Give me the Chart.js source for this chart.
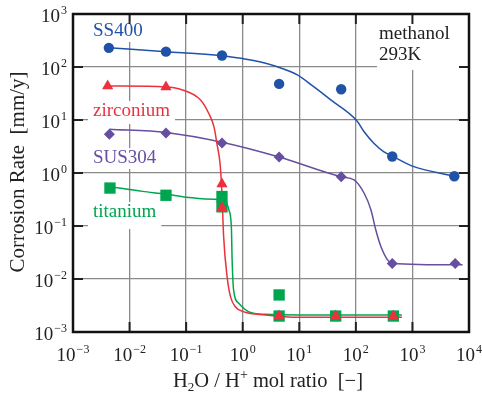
<!DOCTYPE html>
<html>
<head>
<meta charset="utf-8">
<script src="https://cdn.jsdelivr.net/npm/chart.js@4.4.0/dist/chart.umd.min.js"></script>
<style>
  html, body { margin: 0; background: #fff; }
  canvas { display: block; }
</style>
</head>
<body>
<canvas id="myChart" width="482" height="394"></canvas>
<script>
const canvas = document.getElementById('myChart')

// axis decades
const xTicks = [1e-3, 1e-2, 1e-1, 1e0, 1e1, 1e2, 1e3, 1e4]
const yTicks = [1e-3, 1e-2, 1e-1, 1e0, 1e1, 1e2, 1e3]

const ss400X = [0.0043, 0.044, 0.43, 4.4, 55, 440, 5500]
const ss400Y = [230, 195, 165, 48, 38, 2.05, 0.87]
const zrX = [0.0041, 0.044, 0.43, 0.43, 4.4, 44, 460]
const zrY = [44, 42, 0.62, 0.22, 0.002, 0.002, 0.002]
const sus304X = [0.0044, 0.044, 0.43, 4.4, 55, 440, 5700]
const sus304Y = [5.4, 5.7, 3.7, 2.0, 0.85, 0.0197, 0.0197]
const tiX = [0.0045, 0.044, 0.43, 0.43, 4.4, 4.4, 44, 460]
const tiY = [0.52, 0.38, 0.36, 0.23, 0.005, 0.002, 0.002, 0.002]

// fitted curves
const ss400CurveX = [0.0043, 0.044, 0.43, 1, 2, 4.1, 9.25, 18.2, 36, 104, 140, 210, 314, 437, 1000, 5500]
const ss400CurveY = [230, 195, 163, 144, 126, 101, 71, 42, 24, 9.7, 6.0, 3.6, 2.5, 2.1, 1.35, 0.87]
const zrCurveX = [0.0041, 0.044, 0.079, 0.178, 0.25, 0.31, 0.35, 0.40, 0.43, 0.46, 0.53, 0.61, 0.74, 1.05, 2.5, 10, 100, 650]
const zrCurveY = [44, 42, 38, 24, 13.4, 7.5, 3.6, 1.4, 0.4, 0.063, 0.011, 0.0046, 0.003, 0.0024, 0.0021, 0.0019, 0.0019, 0.0019]
const sus304CurveX = [0.0044, 0.044, 0.43, 4.4, 55, 93, 141, 185, 226, 277, 363, 440, 7700]
const sus304CurveY = [6.7, 5.8, 3.8, 2.0, 0.85, 0.74, 0.41, 0.2, 0.083, 0.041, 0.023, 0.0197, 0.0185]
const tiCurveX = [0.0045, 0.017, 0.044, 0.1, 0.3, 0.5, 0.57, 0.63, 0.65, 0.69, 0.85, 1.29, 2.5, 10, 100, 650]
const tiCurveY = [0.55, 0.45, 0.40, 0.35, 0.32, 0.29, 0.2, 0.097, 0.023, 0.0062, 0.0035, 0.0024, 0.00216, 0.0021, 0.0021, 0.0021]

const blue = 'rgb(32, 82, 168)'
const red = 'rgb(235, 50, 60)'
const purple = 'rgb(102, 78, 160)'
const green = 'rgb(0, 165, 80)'
const serif = '"Liberation Serif", "DejaVu Serif", serif'

const pts = (xs, ys) => xs.map((x, i) => ({ x, y: ys[i] }))

function curve(xs, ys, color) {
    return {
        data: pts(xs, ys),
        showLine: true,
        borderColor: color,
        borderWidth: 1.5,
        pointRadius: 0,
        cubicInterpolationMode: 'monotone',
        order: 10
    }
}

function marks(xs, ys, color, style, radius, order) {
    return {
        data: pts(xs, ys),
        showLine: false,
        pointStyle: style,
        pointRadius: radius,
        backgroundColor: color,
        borderWidth: 0,
        order
    }
}

// 10 with a raised exponent
function power(ctx, exp, x, y, align) {
    const sup = exp < 0 ? '\u2212' + (-exp) : String(exp)
    ctx.font = '19px ' + serif
    const wb = ctx.measureText('10').width
    ctx.font = '12px ' + serif
    const ws = ctx.measureText(sup).width
    const left = align === 'center' ? x - (wb + ws + 1) / 2 : x - wb - ws - 1
    ctx.textAlign = 'left'
    ctx.font = '19px ' + serif
    ctx.fillText('10', left, y)
    ctx.font = '12px ' + serif
    ctx.fillText(sup, left + wb + 1, y - 8)
}

// pieces of a title: [text, size, shift]
function pieces(ctx, parts, x, y) {
    let total = 0
    for (const [t, s] of parts) { ctx.font = s + 'px ' + serif; total += ctx.measureText(t).width }
    let cx = x - total / 2
    ctx.textAlign = 'left'
    for (const [t, s, dy] of parts) {
        ctx.font = s + 'px ' + serif
        ctx.fillText(t, cx, y + dy)
        cx += ctx.measureText(t).width
    }
}

function label(ctx, text, x, y, color, below) {
    ctx.font = '19px ' + serif
    const w = ctx.measureText(text).width
    ctx.fillStyle = '#fff'
    ctx.fillRect(x - 5, y - 15, w + 10, 15 + below)
    ctx.fillStyle = color
    ctx.textAlign = 'left'
    ctx.fillText(text, x, y)
}

const decor = {
    id: 'decor',
    beforeDatasetsDraw(chart) {
        const { ctx, chartArea: a, scales: { x, y } } = chart
        ctx.save()

        // label boxes
        ctx.fillStyle = '#fff'
        ctx.fillRect(377, a.top, a.right - 377, 70 - a.top)
        ctx.fillStyle = '#222'
        ctx.font = '19px ' + serif
        ctx.textAlign = 'left'
        ctx.fillText('methanol', 379, 39)
        ctx.fillText('293K', 379, 60)

        label(ctx, 'SS400', 93, 36, blue, 6)
        label(ctx, 'zirconium', 93, 116, red, 8)
        label(ctx, 'SUS304', 93, 163, purple, 6)
        label(ctx, 'titanium', 93, 217, green, 12)

        // inward ticks
        ctx.strokeStyle = '#222'
        ctx.lineWidth = 2
        ctx.beginPath()
        for (const v of xTicks) {
            const px = x.getPixelForValue(v)
            ctx.moveTo(px, a.top); ctx.lineTo(px, a.top + 10)
            ctx.moveTo(px, a.bottom); ctx.lineTo(px, a.bottom - 10)
        }
        for (const v of yTicks) {
            const py = y.getPixelForValue(v)
            ctx.moveTo(a.left, py); ctx.lineTo(a.left + 10, py)
            ctx.moveTo(a.right, py); ctx.lineTo(a.right - 10, py)
        }
        ctx.stroke()

        // frame
        ctx.strokeStyle = '#111'
        ctx.lineWidth = 2.5
        ctx.strokeRect(a.left, a.top, a.right - a.left, a.bottom - a.top)

        // tick labels
        ctx.fillStyle = '#222'
        ctx.textBaseline = 'alphabetic'
        for (const v of xTicks) power(ctx, Math.round(Math.log10(v)), x.getPixelForValue(v), 361, 'center')
        for (const v of yTicks) power(ctx, Math.round(Math.log10(v)), 67, y.getPixelForValue(v) + 8, 'right')

        // axis titles
        pieces(ctx, [['H', 20.5, 0], ['2', 13, 4], ['O', 20.5, 0], [' / ', 20.5, 0], ['H', 20.5, 0], ['+', 14, -8], [' mol ratio  [\u2212]', 20.5, 0]], 268, 387)

        ctx.translate(24, 172)
        ctx.rotate(-Math.PI / 2)
        ctx.font = '21px ' + serif
        ctx.textAlign = 'center'
        ctx.fillText('Corrosion Rate  [mm/y]', 0, 0)
        ctx.restore()
    }
}

const config = {
    type: 'scatter',
    data: {
        datasets: [
            marks(zrX, zrY, red, 'triangle', 6.5, 0),
            marks(tiX, tiY, green, 'rect', 8, 1),
            marks(ss400X, ss400Y, blue, 'circle', 5.2, 2),
            marks(sus304X, sus304Y, purple, 'rectRot', 5.5, 2),
            curve(ss400CurveX, ss400CurveY, blue),
            curve(zrCurveX, zrCurveY, red),
            curve(sus304CurveX, sus304CurveY, purple),
            curve(tiCurveX, tiCurveY, green)
        ]
    },
    options: {
        responsive: false,
        animation: false,
        devicePixelRatio: 1,
        layout: { padding: { left: 73, right: 13, top: 14, bottom: 62 } },
        plugins: { legend: { display: false }, tooltip: { enabled: false } },
        scales: {
            x: {
                type: 'logarithmic', min: 1e-3, max: 1e4,
                afterBuildTicks: axis => { axis.ticks = xTicks.map(value => ({ value })) },
                ticks: { display: false },
                grid: { color: '#8a8a8a', lineWidth: 1.3, drawTicks: false },
                border: { display: false }
            },
            y: {
                type: 'logarithmic', min: 1e-3, max: 1e3,
                afterBuildTicks: axis => { axis.ticks = yTicks.map(value => ({ value })) },
                ticks: { display: false },
                grid: { color: '#8a8a8a', lineWidth: 1.3, drawTicks: false },
                border: { display: false }
            }
        }
    },
    plugins: [decor]
}

const myChart = new Chart(canvas, config)
</script>
</body>
</html>
